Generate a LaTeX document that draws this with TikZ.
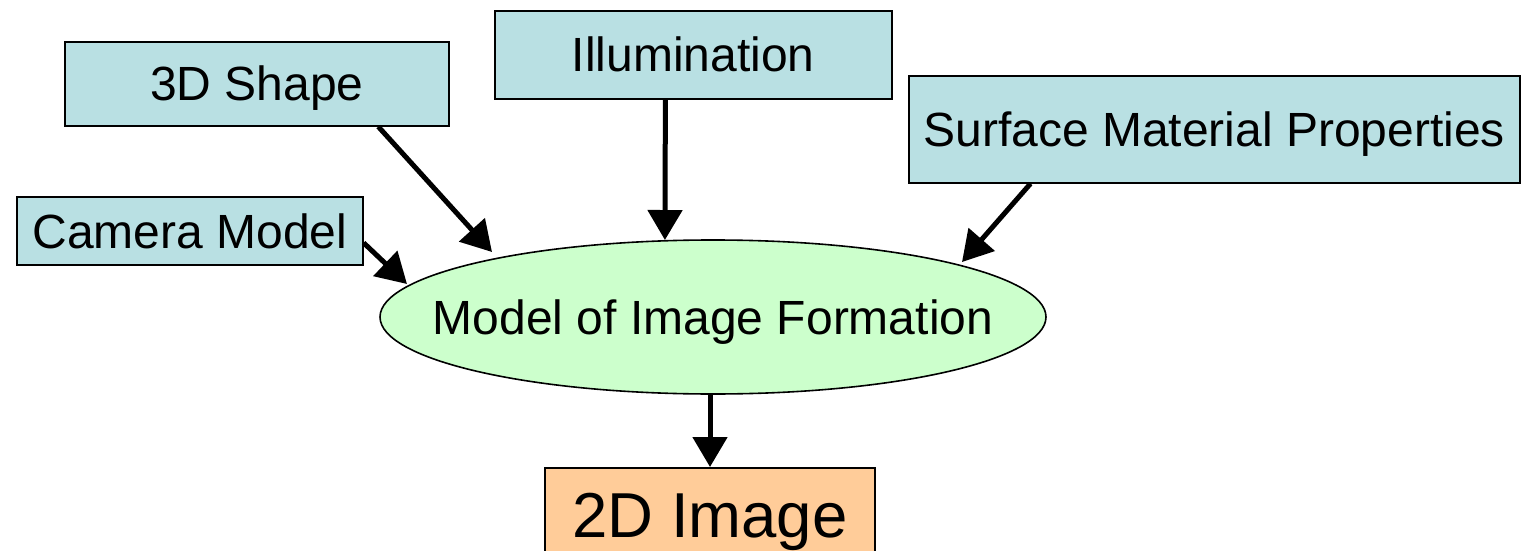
\documentclass[tikz,border=0pt]{standalone}
\usepackage{fontspec}
\setmainfont{Liberation Sans}
\usetikzlibrary{shapes.geometric,arrows.meta,calc}
\definecolor{boxblue}{HTML}{B9E0E3}
\definecolor{ellgreen}{HTML}{CCFFCC}
\definecolor{imgorange}{HTML}{FFCC99}
\begin{document}
\begin{tikzpicture}[x=1pt,y=1pt,
  inbox/.style={draw=black, line width=1.6pt, fill=boxblue, inner sep=0pt, anchor=north west,
    font=\fontsize{48}{57}\selectfont, text height=34.4pt, text depth=0pt},
  conn/.style={line width=5pt, -{Triangle[length=30pt,width=34pt]}},
]
\useasboundingbox (0,0) rectangle (1525,550);
\clip (0,0) rectangle (1525,550);
% input boxes (y = 550 - pixel y)
\node[inbox, minimum width=384pt, minimum height=84pt] (shape) at (64,509) {3D Shape};
\node[inbox, minimum width=397pt, minimum height=88pt] (illum) at (494,540) {Illumination};
\node[inbox, minimum width=611pt, minimum height=107pt] (surf) at (908,475) {Surface Material Properties};
\node[inbox, minimum width=346pt, minimum height=68pt] (cam) at (16,354) {Camera Model};
% ellipse
\node[ellipse, draw=black, line width=1.6pt, fill=ellgreen, minimum width=666pt, minimum height=154pt, inner sep=0pt] (ell) at (713,233) {};
\node[font=\fontsize{48}{57}\selectfont, inner sep=0pt, text height=34.4pt, text depth=0pt] (elltext) at (ell.center) {Model of Image Formation};
% output box
\node[draw=black, line width=1.6pt, fill=imgorange, inner sep=0pt, anchor=north,
  minimum width=330pt, minimum height=100pt] (img) at (710,83) {};
\node[font=\fontsize{63.5}{70}\selectfont, inner sep=0pt, text height=45.5pt, text depth=0pt] (imgtext) at (710,35) {2D Image};
% connectors
\draw[conn] ($(shape.south west)!0.815!(shape.south east)$) -- ($(ell.center)+(-221,65)$);
\draw[conn] ($(illum.south west)!0.43!(illum.south east)$) -- (ell.122.2);
\draw[conn] ($(surf.south west)!0.2!(surf.south east)$) -- ($(ell.center)+(249,55)$);
\draw[conn] ($(cam.east)+(0,-12)$) -- ($(ell.center)+(-306,33)$);
\draw[conn] (img.north |- ell.south) -- (img.north);
\end{tikzpicture}
\end{document}
